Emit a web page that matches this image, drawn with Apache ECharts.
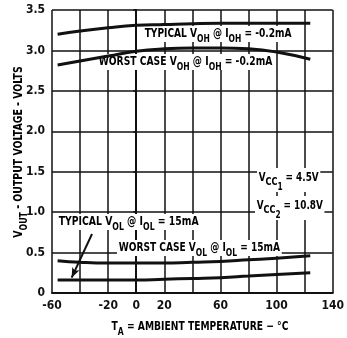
<!DOCTYPE html>
<html><head><meta charset="utf-8">
<script src="https://cdn.jsdelivr.net/npm/echarts@6/dist/echarts.min.js"></script>
<style>html,body{margin:0;padding:0;background:#fff}#c{width:347px;height:338px}</style>
</head><body><div id="c"></div>
<script>
// Data
var temps = [-56, -40, -20, 0, 20, 40, 60, 80, 100, 124];
var typicalVOH = [3.20, 3.24, 3.28, 3.31, 3.32, 3.33, 3.335, 3.335, 3.335, 3.335];
var worstVOH   = [2.82, 2.87, 2.93, 2.99, 3.02, 3.03, 3.03, 3.02, 2.98, 2.89];
var worstVOL   = [0.40, 0.38, 0.37, 0.37, 0.37, 0.38, 0.39, 0.41, 0.43, 0.46];
var typicalVOL = [0.16, 0.16, 0.16, 0.16, 0.17, 0.18, 0.19, 0.21, 0.23, 0.25];
var xTickLabels = [-60, -20, 0, 20, 60, 100, 140];
var arrowFrom = [-31.5, 0.73];
var arrowTo = [-46, 0.19];

var FONT = "'DejaVu Sans Condensed','Liberation Sans',sans-serif";
var INK = '#111';
function pairs(ys){ return temps.map(function(t,i){ return [t, ys[i]]; }); }

var richBase = {
  m: {fontFamily: FONT, fontSize: 12, fontWeight: 'bold', color: INK, lineHeight: 16, verticalAlign: 'middle'},
  s: {fontFamily: FONT, fontSize: 10, fontWeight: 'bold', color: INK, lineHeight: 16, verticalAlign: 'bottom', padding:[0,0,-2,0]}
};
var richVcc = {
  m: {fontFamily: FONT, fontSize: 12, fontWeight: 'bold', color: INK, lineHeight: 24, verticalAlign: 'top', padding:[4,0,0,0]},
  s: {fontFamily: FONT, fontSize: 11, fontWeight: 'bold', color: INK, lineHeight: 24, verticalAlign: 'top', padding:[9,0,0,0]},
  ss: {fontFamily: FONT, fontSize: 10, fontWeight: 'bold', color: INK, lineHeight: 24, verticalAlign: 'top', padding:[14,0,0,0]}
};
function label(x, y, text, sx, rich){
  return {type:'text', x:x, y:y, z:1, scaleX:sx, style:{text:text, rich:rich||richBase, textAlign:'left', textVerticalAlign:'middle', backgroundColor:'#fff', padding:[0,2]}};
}

var chart = echarts.init(document.getElementById('c'), null, {renderer:'canvas'});
chart.setOption({
  animation:false,
  backgroundColor:'#fff',
  grid:{left:52, right:7, top:10, bottom:45},
  xAxis:{type:'value', min:-60, max:140, interval:20,
    axisLine:{show:true, lineStyle:{color:INK, width:2}},
    axisTick:{show:false},
    splitLine:{show:true, lineStyle:{color:INK, width:1.5}},
    axisLabel:{margin:7, color:INK, fontFamily:FONT, fontSize:12, fontWeight:'bold',
      formatter:function(v){ return xTickLabels.indexOf(v)>=0 ? String(v) : ''; }}
  },
  yAxis:{type:'value', min:0, max:3.5, interval:0.5,
    axisLine:{show:true, lineStyle:{color:INK, width:2}},
    axisTick:{show:true, length:3, lineStyle:{color:INK, width:1.5}},
    splitLine:{show:true, lineStyle:{color:INK, width:1.5}},
    axisLabel:{margin:7, color:INK, fontFamily:FONT, fontSize:12, fontWeight:'bold',
      formatter:function(v){ return v===0 ? '0' : v.toFixed(1); }}
  },
  series:[
    {type:'line', z:3, data:pairs(typicalVOH), smooth:true, showSymbol:false, lineStyle:{color:INK, width:3}},
    {type:'line', z:3, data:pairs(worstVOH), smooth:true, showSymbol:false, lineStyle:{color:INK, width:3}},
    {type:'line', z:3, data:pairs(worstVOL), smooth:true, showSymbol:false, lineStyle:{color:INK, width:3}},
    {type:'line', z:3, data:pairs(typicalVOL), smooth:true, showSymbol:false, lineStyle:{color:INK, width:3},
      markLine:{silent:true, symbol:['none','arrow'], symbolSize:[6,10], label:{show:false},
        lineStyle:{color:INK, width:2, type:'solid'},
        data:[[{coord:arrowFrom}, {coord:arrowTo}]]}}
  ],
  graphic:[
    label(143, 34, '{m|TYPICAL V}{s|OH}{m| @ I}{s|OH}{m| = -0.2mA}', 0.84),
    label(97, 62, '{m|WORST CASE V}{s|OH}{m| @ I}{s|OH}{m| = -0.2mA}', 0.85),
    label(57, 222, '{m|TYPICAL V}{s|OL}{m| @ I}{s|OL}{m| = 15mA}', 0.86),
    label(117, 248, '{m|WORST CASE V}{s|OL}{m| @ I}{s|OL}{m| = 15mA}', 0.84),
    label(257, 180, '{m|V}{s|CC}{ss|1}{m| = 4.5V}', 0.82, richVcc),
    label(255, 208, '{m|V}{s|CC}{ss|2}{m| = 10.8V}', 0.82, richVcc),
    {type:'text', x:200, y:327, scaleX:0.85, style:{text:'{m|T}{s|A}{m| = AMBIENT TEMPERATURE − °C}', rich:richBase, textAlign:'center', textVerticalAlign:'middle'}},
    {type:'text', x:19, y:152, rotation:Math.PI/2, scaleX:0.87, style:{text:'{m|V}{s|OUT}{m| - OUTPUT VOLTAGE - VOLTS}', rich:richBase, textAlign:'center', textVerticalAlign:'middle'}}
  ]
});
</script></body></html>
